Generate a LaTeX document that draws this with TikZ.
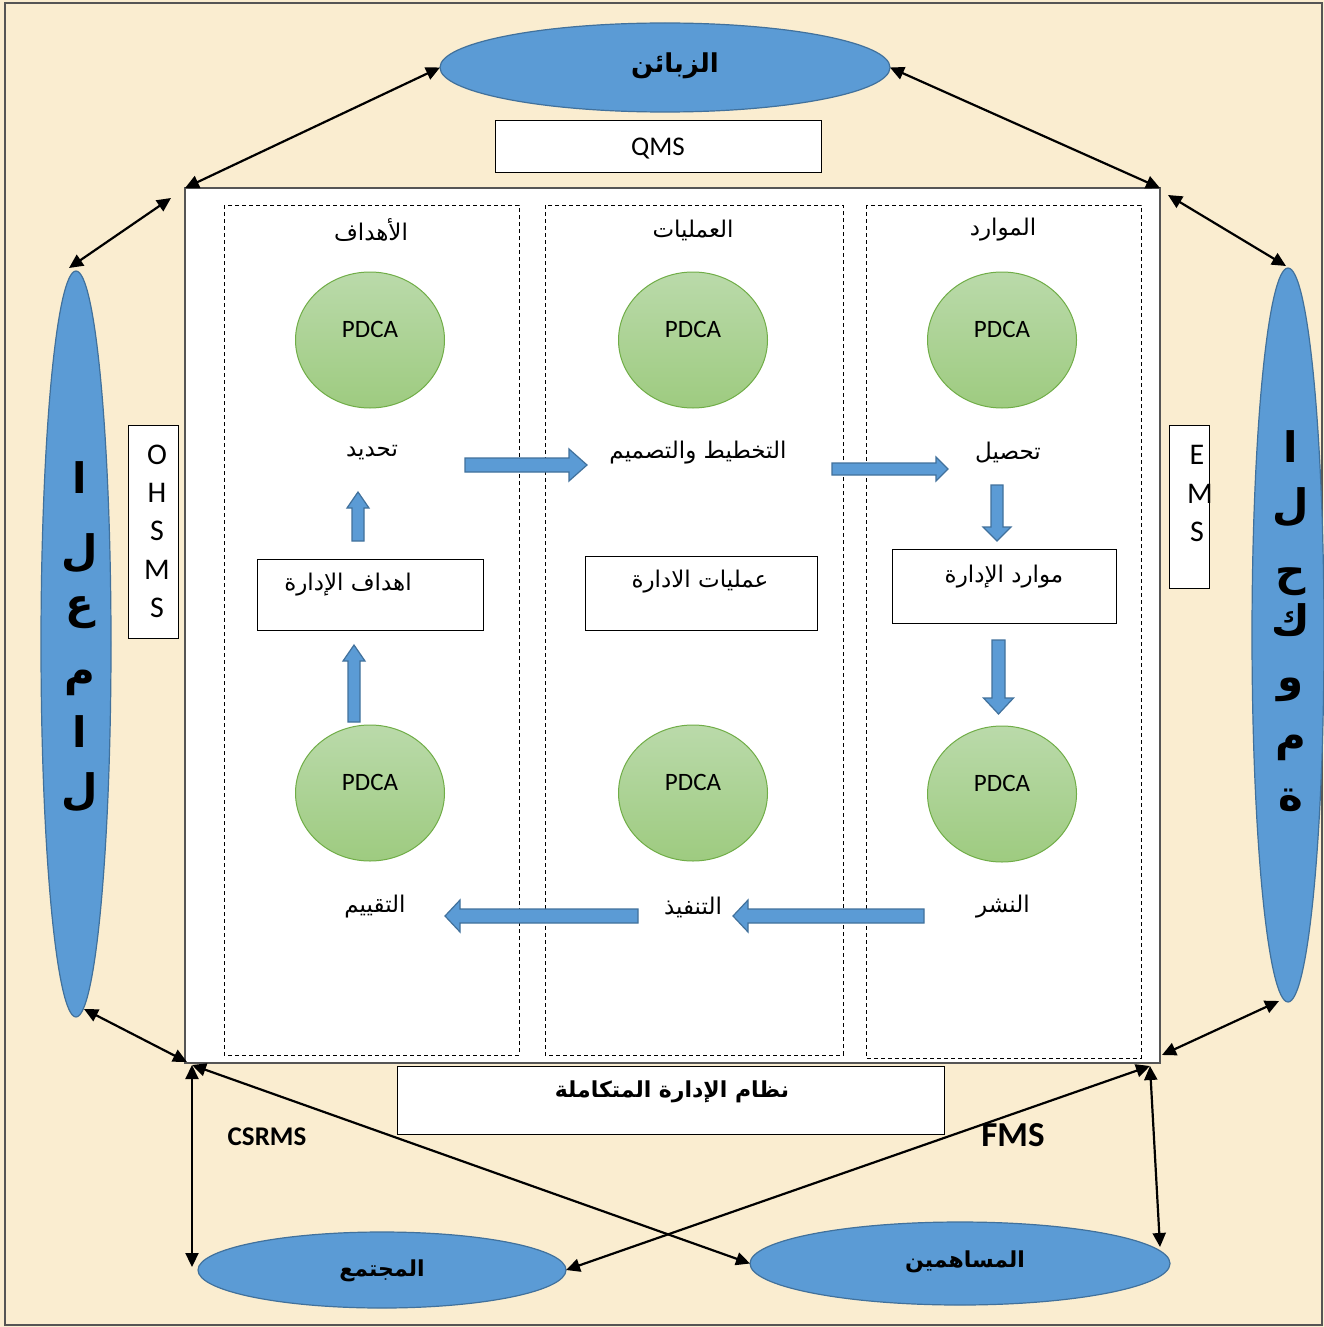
\documentclass[tikz,border=0pt]{standalone}
\usepackage{fontspec}
\usetikzlibrary{arrows.meta,shapes.geometric}
\TeXXeTstate=1
\newfontfamily\arabicfont[Script=Arabic]{DejaVu Sans}
\newfontfamily\latinfont{Carlito}
\definecolor{paper}{RGB}{250,237,208}
\definecolor{frame}{RGB}{85,85,85}
\definecolor{bluefill}{RGB}{91,155,213}
\definecolor{blueline}{RGB}{65,113,156}
\definecolor{greentop}{RGB}{186,218,170}
\definecolor{greenbot}{RGB}{158,203,128}
\definecolor{greenline}{RGB}{112,173,71}

% right-to-left Arabic text
\newcommand\artext[1]{\arabicfont\beginR #1\endR}
% block arrow: tail centre (#1,#2), direction #3, length #4,
% shaft half-width #5, head half-width #6, head length #7
\newcommand\bluearrow[7]{%
  \begin{scope}[shift={(#1,#2)}, rotate=#3]
    \filldraw[blockarrow] (0,-#5) -- ({#4-#7},-#5) -- ({#4-#7},-#6) -- (#4,0)
      -- ({#4-#7},#6) -- ({#4-#7},#5) -- (0,#5) -- cycle;
  \end{scope}}

\begin{document}
\begin{tikzpicture}[x=1pt, y=-1pt,
  every node/.style={inner sep=0pt, outer sep=0pt},
  blob/.style={ellipse, draw=blueline, fill=bluefill, line width=1.2pt},
  pdca/.style={ellipse, draw=greenline, line width=1pt,
    top color=greentop, bottom color=greenbot,
    minimum width=149pt, minimum height=136pt,
    text height=18pt, text depth=24pt,
    font=\latinfont\fontsize{25}{30}\selectfont},
  plainbox/.style={draw=black, fill=white, line width=1pt},
  lane/.style={draw=black, dash pattern=on 4pt off 3pt, line width=0.9pt},
  link/.style={{Triangle[length=14pt,width=13pt]}-{Triangle[length=14pt,width=13pt]},
    line width=2.2pt, black},
  blockarrow/.style={fill=bluefill, draw=blueline, line width=1.2pt},
  lbl/.style={font=\fontsize{23}{27}\selectfont},
  bigletter/.style={font=\bfseries\fontsize{42}{48}\selectfont},
  boxletter/.style={font=\latinfont\fontsize{30}{34}\selectfont},
  entity/.style={font=\bfseries\fontsize{22}{27}\selectfont}]

\useasboundingbox (0,0) rectangle (1324,1327);
\fill[paper] (0,0) rectangle (1324,1327);
\draw[frame, line width=2pt] (5,3) rectangle (1322,1325);

% central frame and the three dashed lanes
\node[draw=frame, fill=white, line width=1.5pt, minimum width=975pt, minimum height=875pt]
  (main) at (672.5,625.5) {};
\draw[lane] (224,205) rectangle (519,1055);
\draw[lane] (545,205) rectangle (843,1055);
\draw[lane] (866,205) rectangle (1141,1058);

% lane titles
\node[lbl] (tGoals) at (371,230) {\artext{الأهداف}};
\node[lbl] (tProc)  at (693,230) {\artext{العمليات}};
\node[lbl] (tRes)   at (1003,230) {\artext{الموارد}};

% PDCA cycles
\node[pdca] (p1) at (370,340) {PDCA};
\node[pdca] (p2) at (693,340) {PDCA};
\node[pdca] (p3) at (1002,340) {PDCA};
\node[pdca] (p4) at (370,793) {PDCA};
\node[pdca] (p5) at (693,793) {PDCA};
\node[pdca] (p6) at (1002,794) {PDCA};

% stage labels
\node[lbl] (sDefine)  at (372,453) {\artext{تحديد}};
\node[lbl] (sPlan)    at (698,453) {\artext{التخطيط والتصميم}};
\node[lbl] (sAcquire) at (1008,453) {\artext{تحصيل}};
\node[lbl] (sEval)    at (375,907) {\artext{التقييم}};
\node[lbl] (sExec)    at (693,907) {\artext{التنفيذ}};
\node[lbl] (sDeploy)  at (1003,907) {\artext{النشر}};

% management boxes
\node[plainbox, minimum width=226pt, minimum height=71pt] (bGoals) at (370,594.5) {};
\node[lbl] (bGoalsT) at (348,585) {\artext{اهداف الإدارة}};
\node[plainbox, minimum width=232pt, minimum height=74pt] (bProc) at (701,593) {};
\node[lbl] (bProcT) at (700,582) {\artext{عمليات الادارة}};
\node[plainbox, minimum width=224pt, minimum height=74pt] (bRes) at (1004,586) {};
\node[lbl] (bResT) at (1004,577) {\artext{موارد الإدارة}};

% flow arrows
\bluearrow{465}{465}{0}{122}{7}{16}{18}
\bluearrow{832}{469}{0}{116}{6}{12}{12}
\bluearrow{638}{916}{180}{193}{7}{16}{15}
\bluearrow{924}{916}{180}{191}{7}{16}{15}
\bluearrow{358}{541}{90}{49}{6}{11}{16}
\bluearrow{354}{722}{90}{77}{6}{11}{16}
\bluearrow{997}{485}{270}{56}{6}{14}{14}
\bluearrow{998.5}{640}{270}{74}{6.5}{15}{16}

% system labels
\node[plainbox, minimum width=326pt, minimum height=51pt] (qms) at (658,146.5) {};
\node[font=\latinfont\fontsize{27}{32}\selectfont] (qmsT) at (658,149) {QMS};
\node[plainbox, minimum width=50pt, minimum height=213pt] (ohsms) at (153,531.5) {};
\foreach \ch/\yy [count=\i] in {O/455,H/493,S/531,M/570,S/608}
  \node[boxletter] (ohs\i) at (157,\yy) {\ch};
\node[plainbox, minimum width=40pt, minimum height=163pt] (ems) at (1189,506.5) {};
\node[boxletter] (ems1) at (1197,455) {E};
\node[boxletter] (ems2) at (1200,494) {M};
\node[boxletter] (ems3) at (1197,532) {S};
\node[plainbox, minimum width=547pt, minimum height=68pt] (ims) at (670.5,1100) {};
\node[entity] (imsT) at (672,1092) {\artext{نظام الإدارة المتكاملة}};
\node[font=\latinfont\bfseries\fontsize{27}{32}\selectfont] (csrms) at (267,1137) {CSRMS};
\node[font=\latinfont\bfseries\fontsize{35}{40}\selectfont] (fms) at (1013,1135) {FMS};

% stakeholders
\node[blob, minimum width=450pt, minimum height=89pt] (customers) at (665,67.5) {};
\node[font=\bfseries\fontsize{26}{31}\selectfont] (customersT) at (675,66) {\artext{الزبائن}};
\node[blob, minimum width=70pt, minimum height=746pt] (workers) at (76,644) {};
\foreach \ch/\yy [count=\i] in {ا/478,ل/553,ع/613,م/683,ا/732,ل/792}
  \node[bigletter] (w\i) at (80,\yy) {\artext{\ch}};
\node[blob, minimum width=72pt, minimum height=734pt] (government) at (1288,635) {};
\foreach \ch/\yy [count=\i] in {ا/447,ل/507,ح/582,ك/620,و/690,م/748,ة/800}
  \node[bigletter] (g\i) at (1291,\yy) {\artext{\ch}};
\node[blob, minimum width=368pt, minimum height=76pt] (society) at (382,1270) {};
\node[entity] (societyT) at (382,1271) {\artext{المجتمع}};
\node[blob, minimum width=420pt, minimum height=83pt] (holders) at (960,1263.5) {};
\node[entity] (holdersT) at (965,1262) {\artext{المساهمين}};

% free ends of the links
\coordinate (tlA) at (171,198);
\coordinate (tlB) at (69,268);
\coordinate (trA) at (1168,195);
\coordinate (trB) at (1286,266);
\coordinate (blA) at (84,1009);
\coordinate (blB) at (187,1062);
\coordinate (brA) at (1162,1055);
\coordinate (brB) at (1279,1001);
\coordinate (jL) at (192,1065);
\coordinate (jR) at (1150,1066);
\coordinate (socTop) at (192,1267);
\coordinate (holdTop) at (1160,1247);

% links between the system and its stakeholders
\draw[link] (main.north west) -- (customers.west);
\draw[link] (customers.east) -- (main.north east);
\draw[link] (tlA) -- (tlB);
\draw[link] (trA) -- (trB);
\draw[link] (blA) -- (blB);
\draw[link] (brA) -- (brB);
\draw[link] (jL) -- (socTop);
\draw[link] (jL) -- (holders.west);
\draw[link] (jR) -- (society.east);
\draw[link] (jR) -- (holdTop);
\end{tikzpicture}
\end{document}
